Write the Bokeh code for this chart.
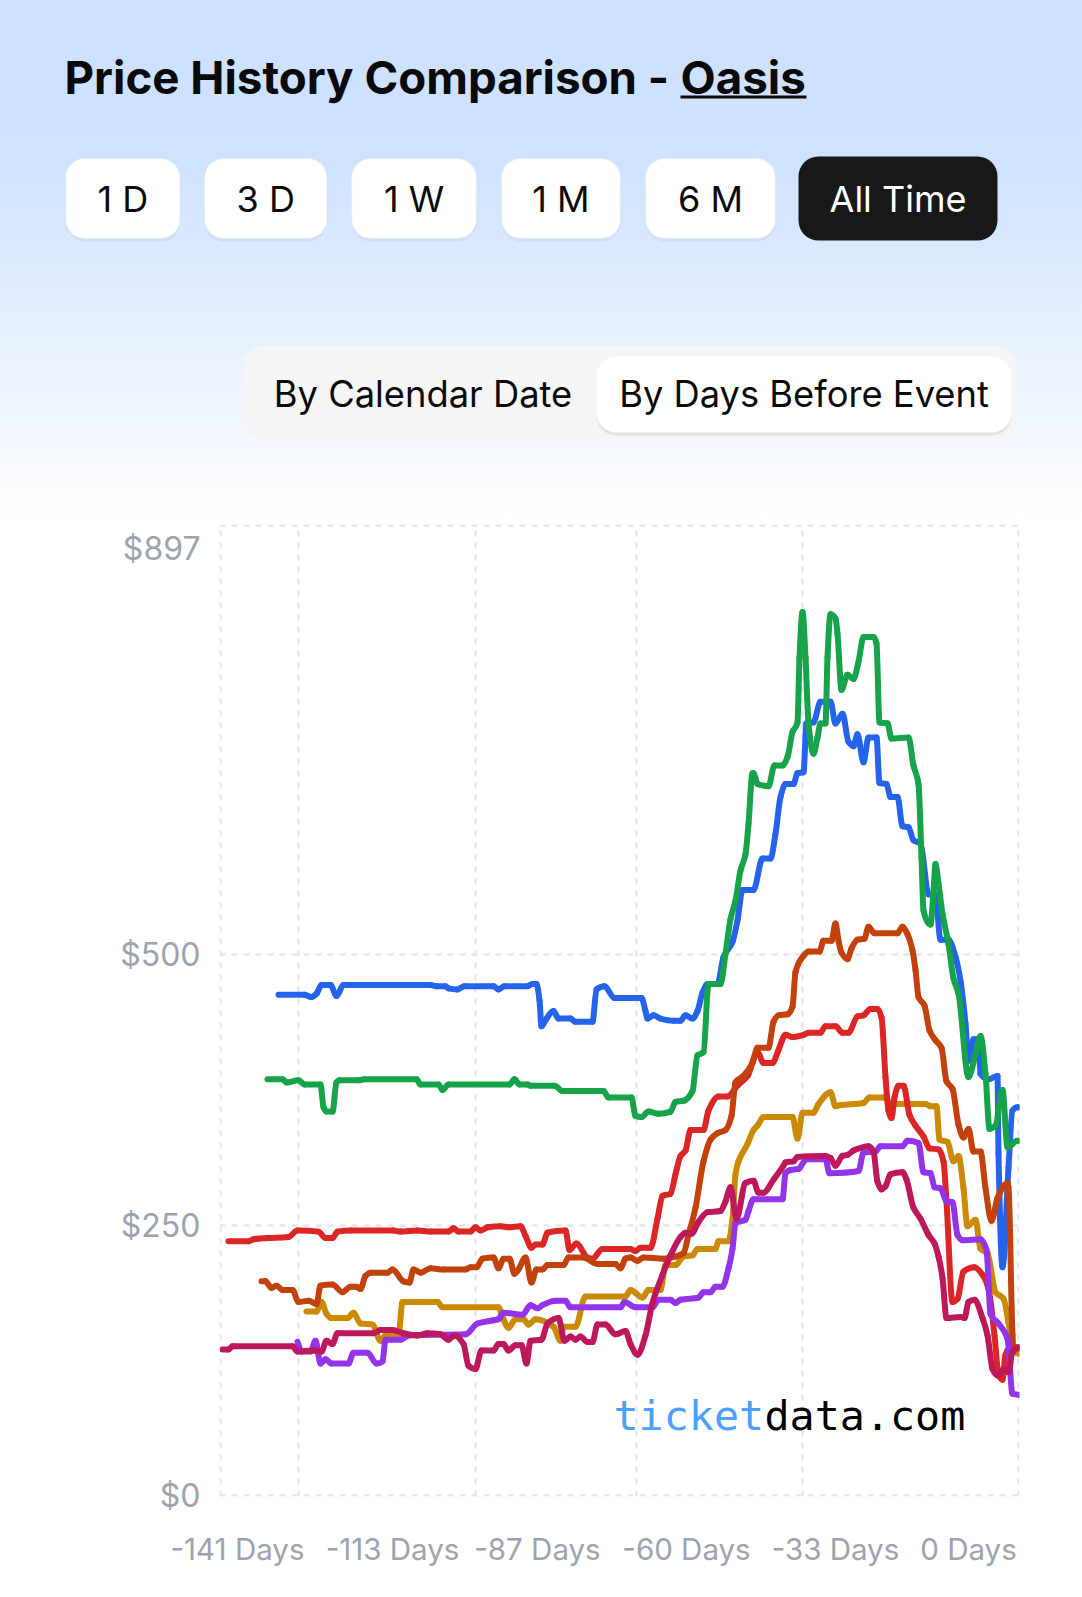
from bokeh.embed import file_html
from bokeh.resources import INLINE
from bokeh.plotting import figure
from bokeh.layouts import column
from bokeh.models import BoxAnnotation, Label, Range1d, FixedTicker, ColumnDataSource, GlobalInlineStyleSheet

# ---- data: x is the sample slot along the axis, y is the price in dollars
blue_x = [58,84,91,96,101,110,116,123,210,216,225,228,237,244,273,278,284,307,312,316,319,321,326,333,338,350,355,372,376,384,394,414,421,425,427,433,440,453,460,465,472,477,482,487,497,503,512,517,522,533,542,550,555,560,565,573,577,583,586,593,600,610,615,622,628,633,637,643,648,656,659,666,670,677,682,688,693,700,708,715,720,728,735,740,745,748,753,758,760,768,777,778,782,788,792,797,798]
blue_y = [463,463,461,464,472,472,462,472,472,471,471,469,468,471,471,468,471,471,473,473,458,434,441,448,441,441,438,438,468,471,460,460,460,448,441,444,441,439,439,444,441,448,465,473,473,498,512,532,560,560,589,589,612,646,658,658,668,669,714,715,734,734,714,723,697,693,704,678,701,701,659,658,646,646,619,618,606,603,556,555,514,514,498,476,436,402,422,422,390,385,388,316,211,303,356,359,359]
green_x = [47,62,66,78,84,100,103,106,112,116,119,139,144,196,200,218,222,228,289,294,299,307,310,334,342,383,388,411,415,421,428,438,450,455,463,472,477,483,488,500,505,510,515,520,525,528,532,533,537,548,554,562,567,572,577,579,582,585,588,593,597,600,605,607,610,615,617,621,627,633,638,643,653,656,659,667,671,688,693,698,701,703,710,713,715,718,722,728,733,738,748,755,760,765,769,775,782,787,797,798]
green_y = [385,385,382,384,380,380,359,355,355,382,384,384,385,385,380,380,375,380,380,385,380,380,379,379,374,374,368,368,351,350,355,353,355,364,365,374,407,410,473,473,501,533,550,578,593,621,668,668,658,656,675,675,683,706,715,775,817,775,714,686,701,714,714,775,815,811,797,745,759,755,771,794,794,788,715,714,700,701,675,658,590,541,528,559,584,566,538,510,478,464,387,408,425,390,339,342,375,322,328,328]
gold_x = [86,96,101,106,111,127,133,140,152,160,165,178,182,217,222,278,282,288,295,303,308,315,333,340,343,355,365,405,410,422,428,440,445,455,463,472,477,495,498,508,512,515,518,527,533,537,543,572,577,582,593,598,610,615,620,643,649,663,672,705,710,716,719,727,733,738,743,747,755,760,767,775,783,788,793,798]
gold_y = [170,170,179,168,164,164,169,159,158,143,148,148,179,179,174,174,165,155,163,163,158,163,156,143,156,156,184,184,190,183,190,190,213,213,221,222,228,228,235,235,256,297,309,325,338,342,350,350,330,354,354,362,373,360,361,363,368,368,362,362,360,360,329,327,309,314,284,249,255,228,224,188,182,160,133,131]
red_x = [8,28,33,48,68,77,98,105,112,117,130,173,180,197,210,228,233,238,250,255,260,267,280,288,300,305,311,315,322,327,345,349,356,367,372,382,410,415,420,430,437,442,450,455,460,465,470,483,488,498,507,517,527,537,543,552,558,565,572,583,588,600,605,615,622,628,637,643,650,657,661,665,668,671,674,678,683,689,695,703,709,718,723,726,732,737,743,754,762,768,774,778,782,785,790,798]
red_y = [235,235,237,238,239,245,244,238,238,244,245,245,244,245,244,244,247,244,244,248,245,248,249,248,249,240,229,232,232,243,245,227,233,220,219,228,228,226,229,229,256,277,279,297,314,319,338,338,356,369,369,379,388,410,400,400,412,426,424,426,428,428,434,434,428,428,443,444,450,450,442,387,356,349,368,379,379,352,342,332,321,320,309,272,179,182,207,211,204,191,148,112,107,130,137,137]
orange_x = [41,45,51,56,62,72,78,88,96,100,112,122,130,136,140,145,150,167,172,183,189,193,200,210,223,245,250,256,262,273,278,283,289,294,298,305,311,316,322,327,343,348,363,377,395,400,405,410,417,423,443,455,463,468,475,483,490,497,505,511,515,523,532,537,548,553,558,567,572,575,583,588,599,603,611,615,618,621,627,631,637,644,648,654,677,682,687,692,695,698,704,709,715,721,726,732,738,743,748,753,760,765,771,777,787,788,792,793,794,798]
orange_y = [198,198,192,194,190,190,179,180,177,194,195,188,193,193,191,203,206,206,209,198,197,209,206,210,209,209,211,211,219,220,210,219,219,205,209,220,197,209,209,213,213,220,220,214,214,210,219,220,217,220,219,221,224,241,266,309,329,335,338,351,382,388,400,414,414,438,444,445,452,484,499,503,503,513,513,529,513,502,496,506,514,515,526,520,520,526,519,504,486,461,453,430,421,414,383,376,343,331,339,318,318,284,254,275,289,285,148,133,136,136]
purple_x = [77,81,90,95,100,105,111,128,133,147,156,162,165,180,188,245,257,273,278,283,302,310,317,322,335,345,350,400,404,415,432,438,450,455,460,478,483,490,495,502,508,512,515,525,528,533,562,565,570,578,586,605,609,638,643,655,660,682,687,698,703,710,714,720,726,732,737,742,760,766,770,778,787,792,798]
purple_y = [142,133,133,143,122,126,122,122,132,132,122,124,144,144,148,149,159,162,163,169,167,176,173,176,180,180,174,174,179,174,174,181,181,178,181,183,188,188,193,193,210,228,252,255,263,274,274,298,301,302,311,311,298,300,317,318,323,323,328,326,299,298,285,284,272,271,241,236,237,227,168,159,145,94,93]
crimson_x = [2,8,12,72,77,93,101,106,112,117,153,160,172,183,197,207,220,228,234,243,248,255,261,273,278,283,288,295,301,306,310,321,327,338,344,350,355,360,367,372,377,385,395,405,410,417,425,432,442,450,460,465,471,478,487,500,505,510,516,525,533,538,543,553,563,565,573,577,605,610,615,622,627,633,648,653,657,661,665,670,682,686,693,700,708,714,718,722,726,740,744,748,754,762,767,772,777,783,788,792,798]
crimson_y = [135,135,138,138,133,134,133,143,140,150,150,153,153,150,148,150,149,144,148,140,120,117,134,134,140,140,134,139,139,122,143,144,159,164,143,147,144,147,142,142,158,158,149,152,140,130,148,178,204,222,239,243,242,253,262,263,272,285,256,289,291,280,280,292,305,308,309,313,314,312,305,314,315,319,323,318,290,283,286,297,299,292,266,256,241,233,221,201,164,165,164,179,181,164,148,117,111,117,114,133,137]

series = [
    (blue_x, blue_y, "#2563eb"),
    (green_x, green_y, "#16a34a"),
    (gold_x, gold_y, "#ca8a04"),
    (red_x, red_y, "#dc2626"),
    (orange_x, orange_y, "#c2410c"),
    (purple_x, purple_y, "#9333ea"),
    (crimson_x, crimson_y, "#be185d"),
]

x_tick_slots = [17, 172, 317, 466, 615, 748]
x_tick_names = ["-141 Days", "-113 Days", "-87 Days", "-60 Days", "-33 Days", "0 Days"]
x_grid_slots = [0, 78, 255, 416, 582, 798]
y_tick_values = [0, 250, 500, 876]
y_tick_names = ["$0", "$250", "$500", "$897"]
y_grid_values = [0, 250, 500, 897]

title_text = "Price History Comparison - "
title_link = "Oasis"
range_buttons = ["1 D", "3 D", "1 W", "1 M", "6 M"]
active_button = "All Time"
toggle_labels = ["By Calendar Date", "By Days Before Event"]

W, H = 1082, 1597      # whole block
HEAD = 524             # header height; the chart frame starts right below it
FL, FB = 219, 1496 - HEAD   # chart frame left and bottom inside the chart figure

chart = figure(width=W, height=H - HEAD, output_backend="svg", toolbar_location=None,
               x_range=Range1d(-1, 799), y_range=Range1d(-1, 898),
               min_border_left=FL, min_border_right=W - FL - 800, min_border_top=0,
               min_border_bottom=H - HEAD - FB, frame_align=False,
               border_fill_alpha=0, background_fill_alpha=0, outline_line_color=None)

chart.xgrid.ticker = FixedTicker(ticks=x_grid_slots)
chart.ygrid.ticker = FixedTicker(ticks=y_grid_values)
for g in (chart.xgrid, chart.ygrid):
    g.grid_line_color = "#e5e7eb"
    g.grid_line_width = 2.4
    g.grid_line_dash = [6, 6]

chart.xaxis.ticker = FixedTicker(ticks=x_tick_slots)
chart.xaxis.major_label_overrides = dict(zip(x_tick_slots, x_tick_names))
chart.yaxis.ticker = FixedTicker(ticks=y_tick_values)
chart.yaxis.major_label_overrides = dict(zip(y_tick_values, y_tick_names))
for ax, standoff, size in ((chart.xaxis, 34, "29.5px"), (chart.yaxis, 19, "32px")):
    ax.axis_line_color = None
    ax.major_tick_line_color = None
    ax.minor_tick_line_color = None
    ax.major_tick_out = 0
    ax.major_tick_in = 0
    ax.major_label_text_color = "#9ca3af"
    ax.major_label_text_font = "Inter"
    ax.major_label_text_font_size = size
    ax.major_label_standoff = standoff


def monotone_segments(xs, ys):
    """Control points of the monotone cubic curve through the data points."""
    n = len(xs)
    h = [xs[i + 1] - xs[i] for i in range(n - 1)]
    d = [(ys[i + 1] - ys[i]) / h[i] for i in range(n - 1)]
    m = [d[0]] + [0.0] * (n - 2) + [d[-1]]
    for i in range(1, n - 1):
        if d[i - 1] * d[i] > 0:
            m[i] = 3 * (h[i - 1] + h[i]) / ((2 * h[i] + h[i - 1]) / d[i - 1] + (h[i] + 2 * h[i - 1]) / d[i])
    return dict(x0=xs[:-1], y0=ys[:-1], x1=xs[1:], y1=ys[1:],
                cx0=[xs[i] + h[i] / 3 for i in range(n - 1)],
                cy0=[ys[i] + m[i] * h[i] / 3 for i in range(n - 1)],
                cx1=[xs[i + 1] - h[i] / 3 for i in range(n - 1)],
                cy1=[ys[i + 1] - m[i + 1] * h[i] / 3 for i in range(n - 1)])


for xs, ys, col in series:
    chart.bezier("x0", "y0", "x1", "y1", "cx0", "cy0", "cx1", "cy1",
                 source=ColumnDataSource(monotone_segments(xs, ys)),
                 line_color=col, line_width=6, line_cap="round")

for x, s, c in ((613, "ticket", "#4d9fff"), (764, "data.com", "#000000")):
    chart.add_layout(Label(x=x - FL, y=FB - (1415 - HEAD), x_units="screen", y_units="screen",
                           text=s, text_font="DejaVu Sans Mono", text_font_size="41.7px",
                           text_color=c, text_baseline="middle"))

# ---- header: its frame fills the figure, so screen units are page pixels
head = figure(width=W, height=HEAD, output_backend="svg", toolbar_location=None,
              x_range=Range1d(0, W), y_range=Range1d(0, HEAD), frame_align=False,
              min_border=0, border_fill_alpha=0, background_fill_alpha=0, outline_line_color=None)
head.axis.visible = False
head.grid.visible = False


def box(l, r, t, b, fill, radius, line=None, alpha=1.0, lw=2):
    head.add_layout(BoxAnnotation(left=l, right=r, top=HEAD - t, bottom=HEAD - b,
                                  left_units="screen", right_units="screen",
                                  top_units="screen", bottom_units="screen",
                                  fill_color=fill, fill_alpha=alpha, line_color=line, line_width=lw,
                                  border_radius=radius, level="underlay"))


def text(x, y, s, size, color="#0a0a0a", style="normal", align="left"):
    head.add_layout(Label(x=x, y=HEAD - y, x_units="screen", y_units="screen", text=s,
                          text_font="Inter", text_font_size=size, text_font_style=style,
                          text_color=color, text_align=align, text_baseline="middle"))


box(680, 806, 95, 98, "#0a0a0a", 0)
button_edges = [(65, 179.5), (204, 326.5), (351, 476), (501, 620), (645, 775)]
for (l, r), name in zip(button_edges, range_buttons):
    box(l, r, 161, 241, "#000000", 19, alpha=0.04)
    box(l, r, 158, 238, "#ffffff", 19, line="#dfe2e7", lw=2)
box(798, 997, 156, 240, "#181818", 20)
box(242, 1017, 345, 439, "#f5f5f5", 22)
box(596, 1011, 359, 435, "#000000", 20, alpha=0.07)
box(596, 1011, 356, 432, "#ffffff", 20)

text(64, 77, title_text, "45.7px", style="bold")
text(680, 77, title_link, "45.7px", style="bold")
for (l, r), name in zip(button_edges, range_buttons):
    text((l + r) / 2, 198, name, "36px", align="center")
text(897.5, 198, active_button, "36px", color="#ffffff", align="center")
text(422.5, 393, toggle_labels[0], "36.3px", align="center")
text(803.5, 393, toggle_labels[1], "36.3px", align="center")

page = column(head, chart, spacing=0)
page.styles = {"background": "linear-gradient(180deg,#cde1ff 0px,#cfe2ff 170px,#e6f0ff 330px,#ffffff 525px,#ffffff 100%)"}
page.stylesheets = [GlobalInlineStyleSheet(css="html,body{margin:0;padding:0}")]

open("out.html", "w").write(file_html(page, INLINE))
